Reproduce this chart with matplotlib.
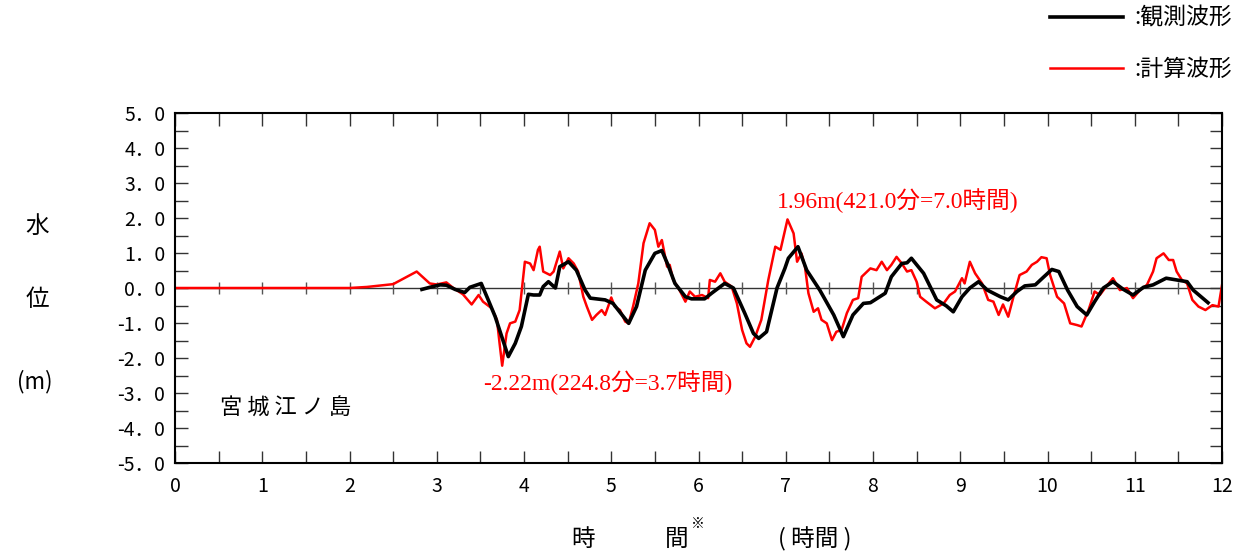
import numpy as np
import matplotlib
matplotlib.use("Agg")
import matplotlib.pyplot as plt
from matplotlib.ticker import MultipleLocator, FixedLocator

plt.rcParams['font.family'] = ['Noto Sans CJK JP', 'DejaVu Sans']

# ---- data (hours, metres) ----
calc_t = [0.0, 2.0, 2.2, 2.5, 2.77, 2.92, 3.0, 3.11, 3.19, 3.30, 3.40, 3.48, 3.53, 3.63,
          3.69, 3.72, 3.75, 3.80, 3.84, 3.90, 3.95, 4.01, 4.07, 4.11, 4.16, 4.18, 4.22,
          4.30, 4.34, 4.41, 4.45, 4.51, 4.57, 4.62, 4.68, 4.72, 4.78, 4.83, 4.89, 4.93,
          4.97, 5.00, 5.04, 5.10, 5.16, 5.20, 5.25, 5.31, 5.37, 5.44, 5.50, 5.54, 5.58,
          5.64, 5.67, 5.71, 5.77, 5.85, 5.90, 5.96, 6.04, 6.11, 6.13, 6.19, 6.25, 6.30,
          6.38, 6.44, 6.50, 6.55, 6.59, 6.65, 6.72, 6.80, 6.88, 6.94, 7.02, 7.09, 7.13,
          7.18, 7.22, 7.26, 7.32, 7.37, 7.41, 7.47, 7.53, 7.58, 7.64, 7.70, 7.77, 7.83,
          7.87, 7.97, 8.04, 8.10, 8.16, 8.21, 8.27, 8.33, 8.39, 8.44, 8.50, 8.54, 8.61,
          8.71, 8.81, 8.88, 8.94, 9.02, 9.05, 9.11, 9.17, 9.25, 9.32, 9.38, 9.44, 9.49,
          9.55, 9.61, 9.68, 9.76, 9.82, 9.88, 9.93, 9.99, 10.03, 10.11, 10.19, 10.26,
          10.34, 10.39, 10.47, 10.54, 10.60, 10.66, 10.75, 10.83, 10.91, 10.98, 11.06,
          11.14, 11.21, 11.25, 11.33, 11.39, 11.44, 11.48, 11.54, 11.60, 11.66, 11.73,
          11.81, 11.89, 11.96, 12.0]
calc_v = [0.0, 0.0, 0.03, 0.11, 0.47, 0.13, 0.10, 0.16, 0.0, -0.18, -0.47, -0.20, -0.39, -0.58,
          -0.91, -1.58, -2.22, -1.30, -1.01, -0.96, -0.63, 0.75, 0.70, 0.51, 1.09, 1.18, 0.47,
          0.37, 0.47, 1.04, 0.56, 0.85, 0.70, 0.47, -0.25, -0.53, -0.91, -0.77, -0.63, -0.77,
          -0.49, -0.27, -0.53, -0.63, -0.96, -1.01, -0.53, 0.13, 1.28, 1.85, 1.66, 1.18, 1.37,
          0.61, 0.66, 0.23, 0.0, -0.39, -0.10, -0.25, -0.20, -0.29, 0.23, 0.18, 0.42, 0.18,
          0.04, -0.44, -1.20, -1.58, -1.68, -1.39, -0.91, 0.23, 1.18, 1.09, 1.96, 1.56, 0.75,
          0.99, 0.61, -0.15, -0.68, -0.58, -0.91, -1.01, -1.49, -1.25, -1.20, -0.72, -0.34, -0.29,
          0.32, 0.56, 0.51, 0.75, 0.51, 0.66, 0.89, 0.70, 0.47, 0.51, 0.18, -0.25, -0.39,
          -0.58, -0.44, -0.20, -0.10, 0.28, 0.13, 0.75, 0.42, 0.13, -0.34, -0.39, -0.77, -0.47,
          -0.82, -0.25, 0.37, 0.47, 0.66, 0.75, 0.88, 0.85, 0.37, -0.25, -0.44, -1.01,
          -1.06, -1.10, -0.63, -0.10, -0.20, 0.0, 0.28, -0.06, 0.0, -0.29, -0.06,
          0.09, 0.47, 0.85, 0.99, 0.80, 0.80, 0.47, 0.23, 0.13, -0.34, -0.53,
          -0.63, -0.49, -0.53, 0.08]

obs_t = [2.83, 2.92, 3.04, 3.11, 3.21, 3.32, 3.38, 3.51, 3.59, 3.67, 3.82, 3.90, 3.97, 4.05,
         4.11, 4.18, 4.22, 4.28, 4.36, 4.41, 4.51, 4.60, 4.70, 4.76, 4.93, 5.02, 5.20, 5.29,
         5.39, 5.50, 5.58, 5.65, 5.73, 5.85, 5.92, 6.07, 6.15, 6.30, 6.40, 6.53, 6.63, 6.69,
         6.78, 6.90, 6.99, 7.03, 7.14, 7.24, 7.39, 7.55, 7.66, 7.77, 7.89, 7.97, 8.14, 8.21,
         8.33, 8.39, 8.44, 8.58, 8.73, 8.84, 8.92, 9.02, 9.11, 9.21, 9.31, 9.46, 9.55, 9.65,
         9.74, 9.86, 9.95, 10.05, 10.13, 10.23, 10.34, 10.45, 10.54, 10.64, 10.75, 10.87,
         10.98, 11.10, 11.21, 11.36, 11.48, 11.60, 11.67, 11.84]
obs_v = [-0.04, 0.02, 0.09, 0.08, -0.04, -0.13, 0.02, 0.13, -0.34, -0.82, -1.96, -1.58, -1.10, -0.18,
         -0.20, -0.20, 0.04, 0.18, 0.0, 0.61, 0.75, 0.51, -0.06, -0.29, -0.34, -0.44, -1.01, -0.53,
         0.51, 0.99, 1.07, 0.66, 0.13, -0.25, -0.31, -0.31, -0.15, 0.13, 0.0, -0.72, -1.30, -1.44,
         -1.25, 0.0, 0.56, 0.85, 1.18, 0.51, -0.06, -0.77, -1.39, -0.77, -0.44, -0.42, -0.15, 0.32,
         0.70, 0.72, 0.85, 0.42, -0.34, -0.51, -0.68, -0.25, 0.0, 0.18, -0.06, -0.25, -0.34, -0.10,
         0.06, 0.09, 0.30, 0.53, 0.47, -0.06, -0.53, -0.77, -0.39, 0.0, 0.18, -0.04,
         -0.20, 0.02, 0.09, 0.28, 0.23, 0.18, -0.06, -0.42]

x_ticks = list(range(0, 13))
x_ticklabels = [str(i) for i in x_ticks]
y_ticks = list(range(-5, 6))
y_ticklabels = ["-5．0", "-4．0", "-3．0", "-2．0", "-1．0", "0．0",
                "1．0", "2．0", "3．0", "4．0", "5．0"]
legend_labels = [":観測波形", ":計算波形"]
station = "宮 城 江 ノ 島"
max_text = "1.96m(421.0分=7.0時間)"
min_text = "-2.22m(224.8分=3.7時間)"

W, H = 1241, 553
fig = plt.figure(figsize=(W / 100, H / 100), dpi=100)
ax = fig.add_axes([175 / W, 1 - 463 / H, (1222 - 175) / W, 350 / H])

ax.set_xlim(0, 12)
ax.set_ylim(-5, 5)

# zero line with small ticks
ax.axhline(0, color='#333333', lw=1.0, zorder=1)
zt = np.arange(0.5, 12, 0.5)
ax.errorbar(zt, np.zeros_like(zt), yerr=0.17, fmt='none', ecolor='#555555',
            elinewidth=1.0, capsize=0, zorder=1)

l2, = ax.plot(calc_t, calc_v, color='#ff0000', lw=1.8, zorder=2)
l1, = ax.plot(obs_t, obs_v, color='black', lw=2.6, zorder=3)

ax.xaxis.set_major_locator(FixedLocator(x_ticks))
ax.xaxis.set_minor_locator(MultipleLocator(0.5))
ax.yaxis.set_major_locator(FixedLocator(y_ticks))
ax.yaxis.set_minor_locator(MultipleLocator(0.5))
ax.set_xticklabels(x_ticklabels)
ax.set_yticklabels(y_ticklabels)
ax.tick_params(which='both', direction='in', top=True, right=True, length=9,
               width=1.0, colors='#333333')
ax.tick_params(axis='x', which='both', labelsize=14, pad=9, labelcolor='black')
ax.tick_params(axis='y', which='both', labelsize=14, pad=7, labelcolor='black')
for s in ax.spines.values():
    s.set_linewidth(1.5)
    s.set_color('black')

# texts
def ft(x, y, s, **kw):
    fig.text(x / W, 1 - y / H, s, **kw)

ft(37, 226, "水", fontsize=17, ha='center', va='center')
ft(37, 300, "位", fontsize=17, ha='center', va='center')
ft(35, 382, "(m)", fontsize=16, ha='center', va='center')

ft(583, 539, "時", fontsize=17, ha='center', va='center')
ft(677, 539, "間", fontsize=17, ha='center', va='center')
ft(698, 524, "※", fontsize=10, ha='center', va='center')
ft(815, 539, "( 時間 )", fontsize=17, ha='center', va='center')

ax.text(0.52, -3.43, station, fontsize=16, ha='left', va='center')

serif = ['Liberation Serif', 'Noto Sans CJK JP']
ax.text(8.28, 2.51, max_text, color='#ff0000', fontsize=17, family=serif,
        ha='center', va='center')
ax.text(4.96, -2.71, min_text, color='#ff0000', fontsize=17, family=serif,
        ha='center', va='center')

fig.legend([l1, l2], legend_labels, loc='upper right',
           bbox_to_anchor=(1253 / W, 1 + 14 / H), frameon=False, fontsize=16.5,
           handlelength=3.2, handletextpad=0.5, labelspacing=1.25)

fig.savefig("out.png", dpi=100)
